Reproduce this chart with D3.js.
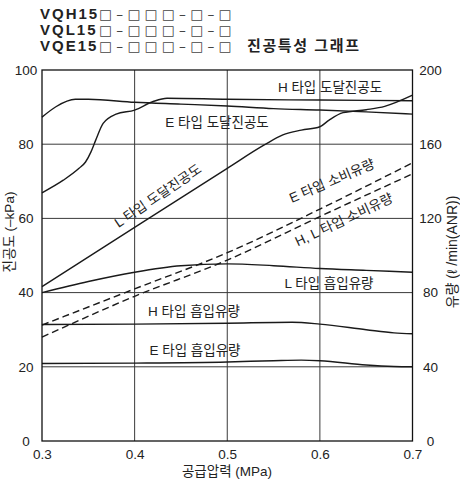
<!DOCTYPE html>
<html>
<head>
<meta charset="utf-8">
<script src="https://cdn.jsdelivr.net/npm/d3@7"></script>
<style>
  html, body { margin: 0; padding: 0; background: #fff; }
  svg { display: block; }
  text { font-family: "Liberation Sans", Arial, "Noto Sans CJK KR", sans-serif; fill: #222; }
</style>
</head>
<body>
<svg id="chart" width="460" height="484"></svg>
<script>
// Supply pressure (MPa) axis ticks
const pressureTicks = [0.3, 0.4, 0.5, 0.6, 0.7];
const vacuumTicks = [0, 20, 40, 60, 80, 100];      // left axis, -kPa
const flowTicks = [0, 40, 80, 120, 160, 200];       // right axis, l/min (ANR)

// Ultimate vacuum curves [pressure, -kPa]
const hVacuum = [[0.3, 87.3], [0.315, 90.1], [0.336, 92.1], [0.35, 92.1], [0.4, 91.3], [0.45, 90.8],
  [0.5, 90.3], [0.55, 89.6], [0.6, 89.2], [0.65, 88.7], [0.7, 88.1]];
const eVacuum = [[0.3, 66.9], [0.323, 70.3], [0.34, 73.5], [0.347, 75.2], [0.353, 78.0], [0.358, 81.1],
  [0.366, 85.6], [0.38, 88.1], [0.4, 89.2], [0.42, 91.5], [0.435, 92.4], [0.5, 92.1], [0.6, 91.9], [0.7, 91.7]];
const lVacuum = [[0.3, 41.6], [0.4, 57.6], [0.5, 73.5], [0.54, 79.8], [0.56, 82.5], [0.58, 83.8],
  [0.6, 84.7], [0.61, 86.5], [0.625, 88.5], [0.65, 89.3], [0.67, 90.2], [0.7, 93.2]];

// Air consumption [pressure, l/min]
const eConsumption = [[0.3, 62.5], [0.4, 82], [0.5, 101.5], [0.6, 125], [0.7, 150]];
const hlConsumption = [[0.3, 56], [0.4, 78], [0.5, 97.5], [0.6, 121], [0.7, 144]];

// Suction flow [pressure, l/min]
const lSuction = [[0.3, 80], [0.35, 86], [0.4, 91], [0.45, 94.5], [0.5, 95.5], [0.55, 94.5],
  [0.6, 93], [0.65, 92], [0.7, 91]];
const hSuction = [[0.3, 62.8], [0.4, 63], [0.5, 63.5], [0.57, 64], [0.6, 63], [0.65, 60], [0.68, 58.3], [0.7, 57.8]];
const eSuction = [[0.3, 41.8], [0.4, 42], [0.5, 42.6], [0.55, 43.3], [0.58, 43.6], [0.6, 43.3],
  [0.65, 41], [0.68, 40.2], [0.7, 40]];

const modelNames = ["VQH15", "VQL15", "VQE15"];
const modelSuffix = "□–□□□–□–□";
const titleTail = "진공특성 그래프";

const svg = d3.select("#chart");
const plotLeft = 42, plotRight = 412.5, plotTop = 70, plotBottom = 441;

const x = d3.scaleLinear().domain([0.3, 0.7]).range([plotLeft, plotRight]);
const yL = d3.scaleLinear().domain([0, 100]).range([plotBottom, plotTop]);
const yR = d3.scaleLinear().domain([0, 200]).range([plotBottom, plotTop]);

// Title block: model codes with option boxes, then the chart name
const title = svg.append("text").attr("font-size", 15);
modelNames.forEach((m, i) => {
  const yb = 19 + i * 16;
  title.append("tspan").attr("x", 40).attr("y", yb)
    .attr("font-weight", "bold").attr("letter-spacing", 2).text(m);
  title.append("tspan").attr("x", 99).attr("y", yb)
    .style("font-family", "'DejaVu Sans', sans-serif").style("font-size", "13.7px")
    .style("fill", "#444").attr("letter-spacing", 4.3).text(modelSuffix);
});
title.append("tspan").attr("x", 247).attr("y", 51).attr("font-weight", "bold")
  .attr("letter-spacing", 1.6).text(titleTail);

// Grid
const grid = svg.append("g").attr("stroke", "#3a3a3a").attr("stroke-width", 1);
grid.selectAll("line.v").data([0.4, 0.5, 0.6]).join("line").attr("class", "v")
  .attr("x1", d => x(d)).attr("x2", d => x(d)).attr("y1", plotTop).attr("y2", plotBottom);
grid.selectAll("line.h").data([20, 40, 60, 80]).join("line").attr("class", "h")
  .attr("x1", plotLeft).attr("x2", plotRight).attr("y1", d => yL(d)).attr("y2", d => yL(d));

// Curves
const lineL = d3.line().x(d => x(d[0])).y(d => yL(d[1])).curve(d3.curveMonotoneX);
const lineR = d3.line().x(d => x(d[0])).y(d => yR(d[1])).curve(d3.curveMonotoneX);
const curves = svg.append("g").attr("fill", "none").attr("stroke", "#1a1a1a").attr("stroke-width", 1.4);
[hVacuum, eVacuum, lVacuum].forEach(s => curves.append("path").attr("d", lineL(s)));
[lSuction, hSuction, eSuction].forEach(s => curves.append("path").attr("d", lineR(s)));
[eConsumption, hlConsumption].forEach(s => curves.append("path").attr("d", lineR(s))
  .attr("stroke-dasharray", "7,4"));

// Frame
svg.append("rect").attr("x", plotLeft).attr("y", plotTop)
  .attr("width", plotRight - plotLeft).attr("height", plotBottom - plotTop)
  .attr("fill", "none").attr("stroke", "#111").attr("stroke-width", 1.3);

// Axes
const fs = 13.5;
const axL = svg.append("g").attr("transform", `translate(${plotLeft},0)`)
  .call(d3.axisLeft(yL).tickValues(vacuumTicks).tickSize(0).tickFormat(d3.format("d")));
axL.select(".domain").remove();
axL.selectAll("text").attr("font-size", fs).attr("text-anchor", "middle").attr("x", -16);

const axR = svg.append("g").attr("transform", `translate(${plotRight},0)`)
  .call(d3.axisRight(yR).tickValues(flowTicks).tickSize(0).tickFormat(d3.format("d")));
axR.select(".domain").remove();
axR.selectAll("text").attr("font-size", fs).attr("text-anchor", "middle").attr("x", 18);

const axB = svg.append("g").attr("transform", `translate(0,${plotBottom})`)
  .call(d3.axisBottom(x).tickValues(pressureTicks).tickSize(0).tickPadding(8).tickFormat(d3.format(".1f")));
axB.select(".domain").remove();
axB.selectAll("text").attr("font-size", fs);

// Axis titles
svg.append("text").attr("transform", "translate(9,232) rotate(-90)").attr("text-anchor", "middle")
  .attr("dominant-baseline", "central").attr("font-size", 13.5).text("진공도 (–kPa)");
svg.append("text").attr("transform", "translate(452,252) rotate(-90)").attr("text-anchor", "middle")
  .attr("dominant-baseline", "central").attr("font-size", 14).text("유량 (ℓ /min(ANR))");
svg.append("text").attr("x", 227).attr("y", 471).attr("text-anchor", "middle")
  .attr("dominant-baseline", "central").attr("font-size", 13.5).text("공급압력 (MPa)");

// Series labels
const labels = [
  { t: "H 타입 도달진공도", x: 330, y: 87, r: 0 },
  { t: "E 타입 도달진공도", x: 217, y: 122, r: 0 },
  { t: "L 타입 도달진공도", x: 158, y: 196, r: -34 },
  { t: "E 타입 소비유량", x: 332, y: 181, r: -23 },
  { t: "H, L 타입 소비유량", x: 344, y: 220, r: -25 },
  { t: "L 타입 흡입유량", x: 329, y: 283, r: 0 },
  { t: "H 타입 흡입유량", x: 194, y: 311, r: 0 },
  { t: "E 타입 흡입유량", x: 195, y: 350, r: 0 }
];
svg.append("g").selectAll("text").data(labels).join("text")
  .attr("transform", d => `translate(${d.x},${d.y}) rotate(${d.r})`)
  .attr("text-anchor", "middle").attr("dominant-baseline", "central")
  .attr("font-size", 13.5).text(d => d.t);
</script>
</body>
</html>
